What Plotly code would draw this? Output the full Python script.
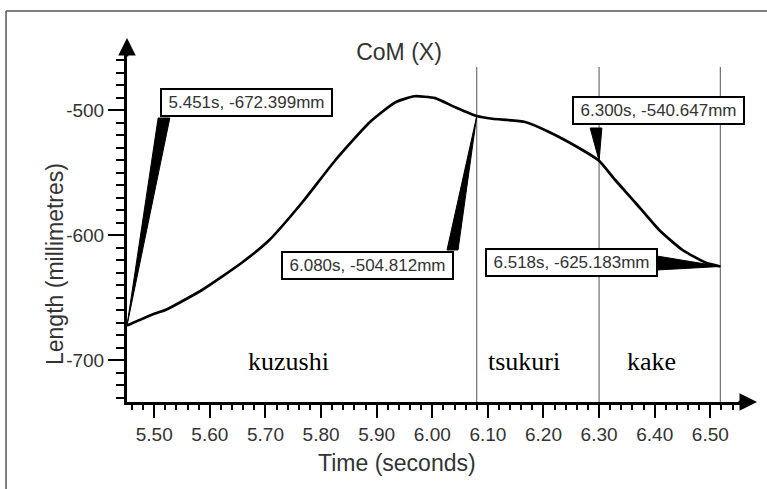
import plotly.graph_objects as go

# ---- data ----
time_s = [5.451, 5.500, 5.520, 5.586, 5.658, 5.707, 5.766, 5.826, 5.887, 5.933,
          5.968, 6.005, 6.040, 6.080, 6.108, 6.167, 6.210, 6.270, 6.300, 6.329,
          6.365, 6.408, 6.450, 6.491, 6.518]
com_x_mm = [-672.4, -663.0, -660.0, -644.0, -622.0, -604.0, -574.0, -540.0, -510.0, -494.0,
            -489.0, -490.5, -497.5, -504.8, -507.0, -509.6, -517.6, -532.0, -540.6, -556.0,
            -574.0, -596.0, -612.0, -622.0, -625.2]

callout_t = [5.451, 6.080, 6.300, 6.518]
callout_v = [-672.399, -504.812, -540.647, -625.183]
callout_text = ["5.451s, -672.399mm", "6.080s, -504.812mm", "6.300s, -540.647mm", "6.518s, -625.183mm"]

phase_bounds = [6.080, 6.300, 6.518]
phase_names = ["kuzushi", "tsukuri", "kake"]

y_tickvals = [-500, -600, -700]
y_ticktext = ["-500", "-600", "-700"]
x_tickvals = [5.5, 5.6, 5.7, 5.8, 5.9, 6.0, 6.1, 6.2, 6.3, 6.4, 6.5]

# ---- layout parameters (label positions in data units) ----
box_pos = [(5.665, -493.6), (5.883, -624.0), (6.406, -500.0), (6.250, -621.6)]
wedge_base = [
    [(5.507, -506.4), (5.528, -506.4)],
    [(6.0265, -612.0), (6.0463, -612.0)],
    [(6.284, -514.4), (6.305, -514.4)],
    [(6.404, -616.8), (6.404, -628.0)],
]
phase_label_pos = [(5.741, -701.0), (6.165, -701.0), (6.395, -701.0)]

SANS = "Arial, Liberation Sans, sans-serif"
GREY = "#333333"

fig = go.Figure()
fig.add_trace(go.Scatter(x=time_s, y=com_x_mm, mode="lines",
                         line=dict(color="black", width=2.7, shape="spline", smoothing=0.5),
                         showlegend=False, hoverinfo="skip"))

shapes = []
for b in phase_bounds:
    shapes.append(dict(type="line", xref="x", yref="y", x0=b, x1=b, y0=-733.6, y1=-465.6,
                       line=dict(color="#555555", width=1), layer="below"))
for (t, v), base in zip(zip(callout_t, callout_v), wedge_base):
    (bx0, by0), (bx1, by1) = base
    path = f"M {bx0},{by0} L {bx1},{by1} L {t},{v} Z"
    shapes.append(dict(type="path", xref="x", yref="y", path=path,
                       fillcolor="black", line=dict(color="black", width=1)))
# outer frame (top and left edges visible)
shapes.append(dict(type="line", xref="paper", yref="paper", x0=-0.1967, x1=1.2, y0=1.127, y1=1.127,
                   line=dict(color="#555555", width=1.5)))
shapes.append(dict(type="line", xref="paper", yref="paper", x0=-0.1967, x1=-0.1967, y0=-0.4, y1=1.127,
                   line=dict(color="#555555", width=1.5)))

annotations = []
for (bx, by), txt in zip(box_pos, callout_text):
    annotations.append(dict(x=bx, y=by, xref="x", yref="y", text=txt, showarrow=False,
                            font=dict(family=SANS, size=17, color=GREY),
                            bgcolor="white", bordercolor="black", borderwidth=2, borderpad=3,
                            width=163))
for (px, py), name in zip(phase_label_pos, phase_names):
    annotations.append(dict(x=px, y=py, xref="x", yref="y", text=name, showarrow=False,
                            font=dict(family="Liberation Serif, Times New Roman, serif", size=26, color="black")))
# axis titles
annotations.append(dict(x=(55 - 127) / 615, y=(402 - 264) / 347, xref="paper", yref="paper",
                        text="Length (millimetres)", textangle=-90, showarrow=False,
                        xanchor="center", yanchor="middle",
                        font=dict(family=SANS, size=23, color=GREY)))
annotations.append(dict(x=(397 - 127) / 615, y=(402 - 463) / 347, xref="paper", yref="paper",
                        text="Time (seconds)", showarrow=False, xanchor="center", yanchor="middle",
                        font=dict(family=SANS, size=23, color=GREY)))
# axis arrows
annotations.append(dict(x=0, y=(402 - 38) / 347, xref="paper", yref="paper", ax=0, ay=20, text="",
                        showarrow=True, arrowhead=2, arrowsize=1.4, arrowwidth=2.5, arrowcolor="black"))
annotations.append(dict(x=(757 - 127) / 615, y=0, xref="paper", yref="paper", ax=-20, ay=0, text="",
                        showarrow=True, arrowhead=2, arrowsize=1.4, arrowwidth=2.5, arrowcolor="black"))

fig.update_layout(
    width=767, height=489,
    margin=dict(l=127, r=25, t=55, b=87),
    paper_bgcolor="white", plot_bgcolor="white",
    title=dict(text="CoM (X)", x=399 / 767, xanchor="center", y=1 - 52 / 489, yanchor="middle",
               font=dict(family=SANS, size=23, color=GREY)),
    shapes=shapes, annotations=annotations,
    xaxis=dict(range=[5.451, 6.557], showgrid=False, zeroline=False,
               showline=True, linecolor="black", linewidth=3,
               tickmode="array", tickvals=x_tickvals, tickformat=".2f",
               ticks="outside", ticklen=13, tickwidth=2, tickcolor="black",
               minor=dict(dtick=0.02, tick0=5.5, ticks="outside", ticklen=5, tickwidth=2, tickcolor="black"),
               tickfont=dict(family=SANS, size=19, color=GREY)),
    yaxis=dict(range=[-733.6, -456], showgrid=False, zeroline=False,
               showline=True, linecolor="black", linewidth=3,
               tickmode="array", tickvals=y_tickvals, ticktext=y_ticktext,
               ticks="outside", ticklen=16, tickwidth=2, tickcolor="black",
               minor=dict(dtick=10, tick0=-700, ticks="outside", ticklen=8, tickwidth=2, tickcolor="black"),
               tickfont=dict(family=SANS, size=19, color=GREY)),
)

fig.write_html("out.html", config={"displayModeBar": False},
               post_script="document.body.style.margin='0';")
